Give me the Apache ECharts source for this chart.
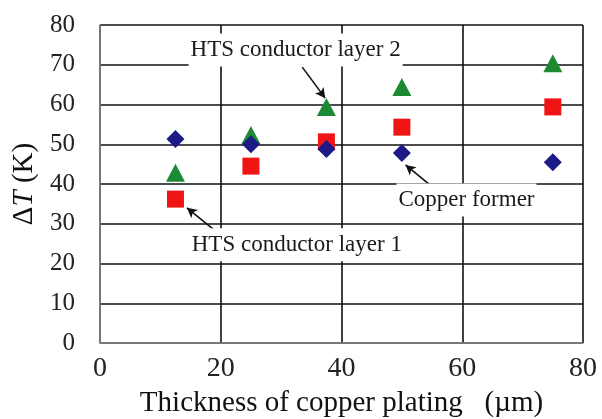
<!DOCTYPE html>
<html>
<head>
<meta charset="utf-8">
<script src="https://cdn.jsdelivr.net/npm/echarts@6/dist/echarts.min.js"></script>
<style>
  html, body { margin: 0; padding: 0; background: #fff; }
  #chart { width: 602px; height: 419px; }
</style>
</head>
<body>
<div id="chart"></div>
<script>
// Copper plating thickness (um)
const thickness = [12.5, 25, 37.5, 50, 75];
// Temperature rise dT (K) per component
const layer1 = [36.2, 44.5, 50.6, 54.3, 59.4];
const layer2 = [42.8, 52.3, 59.4, 64.4, 70.4];
const copperFormer = [51.3, 50, 48.8, 47.8, 45.5];

// annotation labels and their arrows, in data units
const noteText = ['HTS conductor layer 2', 'Copper former', 'HTS conductor layer 1'];
const notePos = [[32.4, 73.7], [60.7, 36.0], [32.6, 24.7]];
const arrowFrom = [[33.5, 69.4], [55.1, 39.2], [19.1, 28.2]];
const arrowTo = [[37.3, 61.6], [50.6, 44.8], [14.4, 34.0]];

const FONT = '"Liberation Serif", "Times New Roman", serif';

const pairs = vals => thickness.map((x, i) => [x, vals[i]]);

const chart = echarts.init(document.getElementById('chart'));

chart.setOption({
  backgroundColor: '#fff',
  animation: false,
  textStyle: { fontFamily: FONT },
  grid: { left: 100, top: 25, right: 19, bottom: 76, outerBoundsMode: 'none' },
  xAxis: {
    type: 'value',
    min: 0,
    max: 80,
    interval: 20,
    name: 'Thickness of copper plating   (\u00b5m)',
    nameLocation: 'middle',
    nameGap: 46,
    nameTextStyle: { fontFamily: FONT, fontSize: 29, color: '#111' },
    axisLine: { lineStyle: { color: '#888', width: 1.5 } },
    axisTick: { show: false },
    axisLabel: { fontFamily: FONT, fontSize: 28, color: '#222', margin: 12 },
    splitLine: { lineStyle: { color: '#111', width: 1.6 } }
  },
  yAxis: {
    type: 'value',
    min: 0,
    max: 80,
    interval: 10,
    name: '{n|\u0394}{i|T}{n| (K)}',
    nameLocation: 'middle',
    nameGap: 58,
    nameTextStyle: {
      rich: {
        n: { fontFamily: FONT, fontSize: 29, color: '#111' },
        i: { fontFamily: FONT, fontSize: 29, color: '#111', fontStyle: 'italic' }
      }
    },
    axisLine: { show: true, lineStyle: { color: '#888', width: 1.5 } },
    axisTick: { show: false },
    axisLabel: { fontFamily: FONT, fontSize: 25, color: '#222', margin: 25 },
    splitLine: { lineStyle: { color: '#111', width: 1.6 } }
  },
  series: [
    {
      name: 'HTS conductor layer 1',
      type: 'scatter',
      symbol: 'rect',
      symbolSize: 17,
      itemStyle: { color: '#f01515', opacity: 1 },
      data: pairs(layer1)
    },
    {
      name: 'HTS conductor layer 2',
      type: 'scatter',
      symbol: 'triangle',
      symbolSize: [19, 18],
      itemStyle: { color: '#1b8a32', opacity: 1 },
      data: pairs(layer2)
    },
    {
      name: 'Copper former',
      type: 'scatter',
      symbol: 'diamond',
      symbolSize: [18, 18],
      itemStyle: { color: '#1c1a86', opacity: 1 },
      data: pairs(copperFormer)
    },
    {
      name: 'notes',
      type: 'scatter',
      symbol: 'circle',
      symbolSize: 1,
      silent: true,
      z: 5,
      itemStyle: { color: '#fff', opacity: 1 },
      label: {
        show: true,
        position: 'inside',
        formatter: p => p.data.text,
        fontFamily: FONT,
        fontSize: 23,
        color: '#1a1a1a',
        textBorderWidth: 0,
        backgroundColor: '#fff',
        padding: [5, 2]
      },
      data: noteText.map((t, i) => ({ value: notePos[i], text: t })),
      markLine: {
        silent: true,
        symbol: ['none', 'arrow'],
        symbolSize: [8, 10],
        label: { show: false },
        lineStyle: { color: '#111', width: 1.6, type: 'solid' },
        data: arrowFrom.map((f, i) => [{ coord: f }, { coord: arrowTo[i] }])
      }
    }
  ]
});
</script>
</body>
</html>
